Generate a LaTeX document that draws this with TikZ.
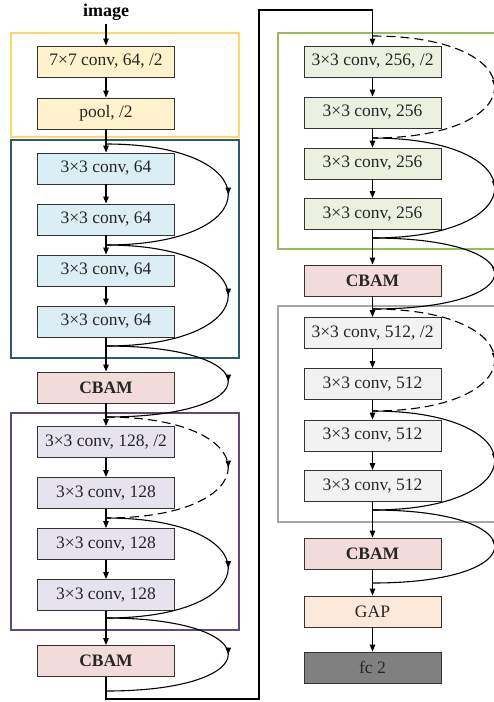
\documentclass[tikz,border=0pt]{standalone}
\usepackage{fontspec}
\setmainfont{Liberation Serif}
\usepackage{xcolor}
\usetikzlibrary{arrows.meta,decorations.markings}

\definecolor{goldline}{HTML}{FFD966}
\definecolor{goldfill}{HTML}{FFF2CC}
\definecolor{tealline}{HTML}{31596E}
\definecolor{bluefill}{HTML}{DAEEF3}
\definecolor{pinkfill}{HTML}{F2DCDB}
\definecolor{purpleline}{HTML}{5F497A}
\definecolor{lavfill}{HTML}{E6E3EE}
\definecolor{greenline}{HTML}{9BBB59}
\definecolor{greenfill}{HTML}{EBF1DE}
\definecolor{grayline}{HTML}{A6A6A6}
\definecolor{grayfill}{HTML}{F2F2F2}
\definecolor{gapfill}{HTML}{FDE9D9}
\definecolor{fcfill}{HTML}{808080}

\begin{document}
\begin{tikzpicture}[x=1pt,y=-1pt,%
% common options for the layer boxes:
layer/.style = {rectangle, draw=black!80, line width=0.9pt, minimum width=137pt,
            minimum height=31pt, inner sep=0, text=black!85,
            font=\fontsize{17.5}{20}\selectfont},
% common options for the stage frames:
stage/.style = {line width=1.2pt},
% plain arrows and skip connections:
flow/.style = {line width=1.1pt, -{Triangle[length=7pt,width=5.5pt]}},
skip/.style = {line width=1.1pt, postaction={decorate},
            decoration={markings, mark=at position 0.5 with {\arrow{Triangle[length=7pt,width=5.5pt]}}}},
down/.style = {dash pattern=on 9pt off 5pt}]
\useasboundingbox (0,0) rectangle (494,702);
\clip (0,0) rectangle (494,702);
% stage frames
\draw[stage,draw=goldline] (11,33) rectangle (239,137);
\draw[stage,draw=tealline] (11,140) rectangle (239,358);
\draw[stage,draw=purpleline] (11,413) rectangle (239,630);
\draw[stage,draw=greenline] (278,33) rectangle (520,249);
\draw[stage,draw=grayline] (278,306) rectangle (520,522);
% left column
\node[font=\fontsize{18}{21}\selectfont\bfseries] (IMG) at (106,12) {image};
\node[layer,fill=goldfill] (C1) at (106,61.5) {7×7 conv, 64, /2};
\node[layer,fill=goldfill] (P1) at (106,113.5) {pool, /2};
\node[layer,fill=bluefill] (A1) at (106,168.5) {3×3 conv, 64};
\node[layer,fill=bluefill] (A2) at (106,219.5) {3×3 conv, 64};
\node[layer,fill=bluefill] (A3) at (106,270.5) {3×3 conv, 64};
\node[layer,fill=bluefill] (A4) at (106,321.5) {3×3 conv, 64};
\node[layer,fill=pinkfill,font=\fontsize{17.5}{20}\selectfont\bfseries] (CB1) at (106,387.5) {CBAM};
\node[layer,fill=lavfill] (B1) at (106,442) {3×3 conv, 128, /2};
\node[layer,fill=lavfill] (B2) at (106,493) {3×3 conv, 128};
\node[layer,fill=lavfill] (B3) at (106,544) {3×3 conv, 128};
\node[layer,fill=lavfill] (B4) at (106,595) {3×3 conv, 128};
\node[layer,fill=pinkfill,font=\fontsize{17.5}{20}\selectfont\bfseries] (CB2) at (106,661) {CBAM};
% right column
\node[layer,fill=greenfill] (D1) at (372.5,61.5) {3×3 conv, 256, /2};
\node[layer,fill=greenfill] (D2) at (372.5,112.5) {3×3 conv, 256};
\node[layer,fill=greenfill] (D3) at (372.5,163.5) {3×3 conv, 256};
\node[layer,fill=greenfill] (D4) at (372.5,214) {3×3 conv, 256};
\node[layer,fill=pinkfill,font=\fontsize{17.5}{20}\selectfont\bfseries] (CB3) at (372.5,280.5) {CBAM};
\node[layer,fill=grayfill] (E1) at (372.5,333) {3×3 conv, 512, /2};
\node[layer,fill=grayfill] (E2) at (372.5,384) {3×3 conv, 512};
\node[layer,fill=grayfill] (E3) at (372.5,435.5) {3×3 conv, 512};
\node[layer,fill=grayfill] (E4) at (372.5,486) {3×3 conv, 512};
\node[layer,fill=pinkfill,font=\fontsize{17.5}{20}\selectfont\bfseries] (CB4) at (372.5,553.5) {CBAM};
\node[layer,fill=gapfill] (GAP) at (372.5,611.5) {GAP};
\node[layer,fill=fcfill] (FC) at (372.5,667.5) {fc 2};
% skip points
\coordinate (S1) at (106,144);
\coordinate (S2) at (106,245);
\coordinate (S3) at (106,346);
\coordinate (S4) at (106,417);
\coordinate (S5) at (106,518);
\coordinate (S6) at (106,618);
\coordinate (S7) at (106,691);
\coordinate (T1) at (372.5,36);
\coordinate (T2) at (372.5,138);
\coordinate (T3) at (372.5,238);
\coordinate (T4) at (372.5,309);
\coordinate (T5) at (372.5,411);
\coordinate (T6) at (372.5,510);
\coordinate (T7) at (372.5,583);
% turn between the columns
\coordinate (L1) at (106,699);
\coordinate (L2) at (259,699);
\coordinate (L3) at (259,10);
\coordinate (L4) at (372.5,10);
% main path
\draw[flow] (IMG) to (C1);
\draw[flow] (C1) to (P1);
\draw[flow] (P1) to (A1);
\draw[flow] (A1) to (A2);
\draw[flow] (A2) to (A3);
\draw[flow] (A3) to (A4);
\draw[flow] (A4) to (CB1);
\draw[flow] (CB1) to (B1);
\draw[flow] (B1) to (B2);
\draw[flow] (B2) to (B3);
\draw[flow] (B3) to (B4);
\draw[flow] (B4) to (CB2);
\draw[flow] (CB2) -- (L1) -- (L2) -- (L3) -- (L4) -- (D1);
\draw[flow] (D1) to (D2);
\draw[flow] (D2) to (D3);
\draw[flow] (D3) to (D4);
\draw[flow] (D4) to (CB3);
\draw[flow] (CB3) to (E1);
\draw[flow] (E1) to (E2);
\draw[flow] (E2) to (E3);
\draw[flow] (E3) to (E4);
\draw[flow] (E4) to (CB4);
\draw[flow] (CB4) to (GAP);
\draw[flow] (GAP) to (FC);
% skip connections
\draw[skip] (S1) .. controls +(163,0) and +(163,0) .. (S2);
\draw[skip] (S2) .. controls +(163,0) and +(163,0) .. (S3);
\draw[skip] (S3) .. controls +(163,0) and +(163,0) .. (S4);
\draw[skip,down] (S4) .. controls +(163,0) and +(163,0) .. (S5);
\draw[skip] (S5) .. controls +(163,0) and +(163,0) .. (S6);
\draw[skip] (S6) .. controls +(163,0) and +(163,0) .. (S7);
\draw[skip,down] (T1) .. controls +(163,0) and +(163,0) .. (T2);
\draw[skip] (T2) .. controls +(163,0) and +(163,0) .. (T3);
\draw[skip] (T3) .. controls +(163,0) and +(163,0) .. (T4);
\draw[skip,down] (T4) .. controls +(163,0) and +(163,0) .. (T5);
\draw[skip] (T5) .. controls +(163,0) and +(163,0) .. (T6);
\draw[skip] (T6) .. controls +(163,0) and +(163,0) .. (T7);
\end{tikzpicture}
\end{document}
